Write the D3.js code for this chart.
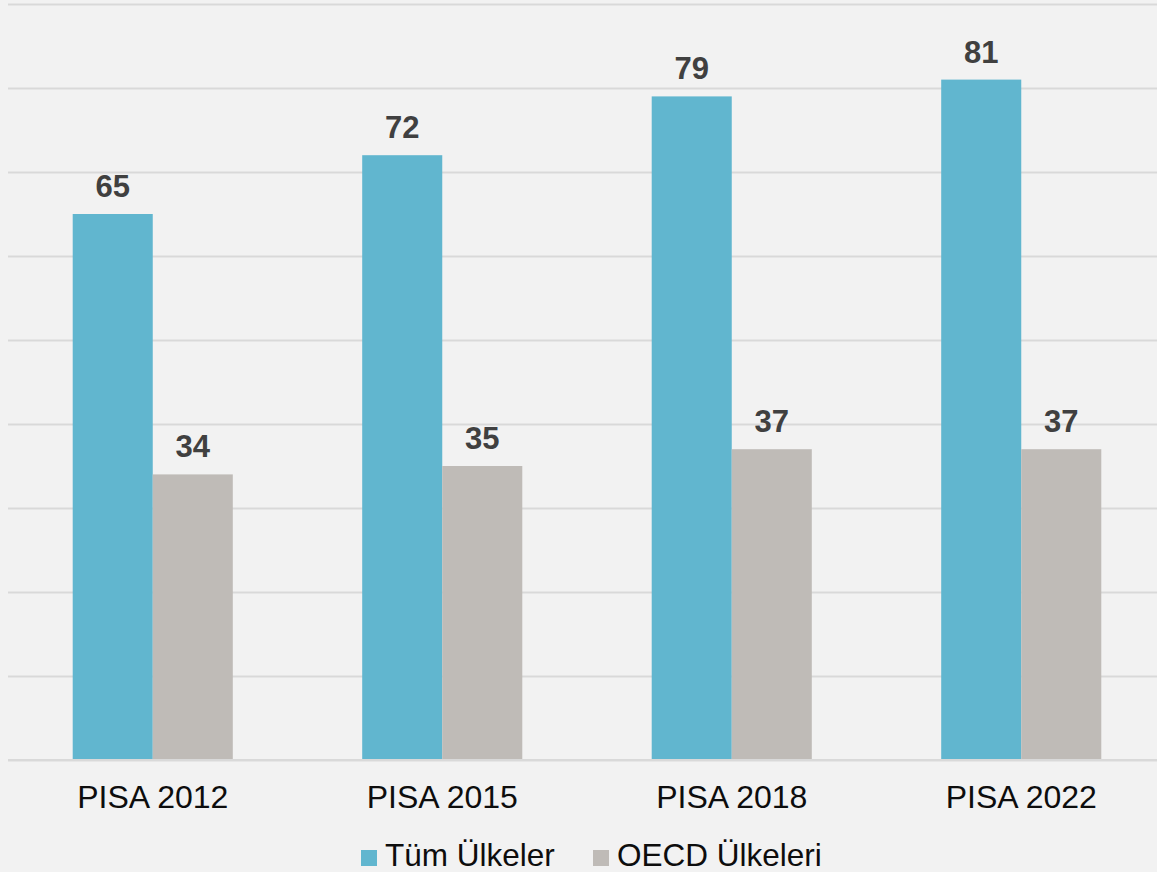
<!DOCTYPE html>
<html>
<head>
<meta charset="utf-8">
<script src="https://cdn.jsdelivr.net/npm/d3@7"></script>
<style>
  html, body { margin: 0; padding: 0; background: #f2f2f2; }
  svg { display: block; font-family: "Liberation Sans", Arial, sans-serif; }
</style>
</head>
<body>
<div id="grafico"></div>
<script>
// datos
const categorias = ["PISA 2012", "PISA 2015", "PISA 2018", "PISA 2022"];
const series = ["Tüm Ülkeler", "OECD Ülkeleri"];
const tumUlkeler = [65, 72, 79, 81];
const oecdUlkeler = [34, 35, 37, 37];
const colores = ["#61b6cf", "#bfbbb7"];
const yTicks = [0, 10, 20, 30, 40, 50, 60, 70, 80, 90];

const width = 1157;
const height = 872;
const marginLeft = 8;
const marginRight = -9;   // el area del grafico sigue un poco fuera de la imagen
const marginTop = 4;
const marginBottom = 112;

const valores = [tumUlkeler, oecdUlkeler];

const svg = d3.select("#grafico")
  .append("svg")
  .attr("width", width)
  .attr("height", height);

svg.append("rect")
  .attr("width", width)
  .attr("height", height)
  .attr("fill", "#f2f2f2");

// escalas
const xScale = d3.scaleBand()
  .domain(categorias)
  .range([marginLeft, width - marginRight])
  .paddingInner(0.447)
  .paddingOuter(0.2235);

const xSub = d3.scaleBand()
  .domain(series)
  .range([0, xScale.bandwidth()]);

const yScale = d3.scaleLinear()
  .domain([0, 90])
  .range([height - marginBottom, marginTop]);

// lineas de cuadricula
const yAxis = d3.axisLeft(yScale)
  .tickValues(yTicks)
  .tickSize(-(width - marginLeft))
  .tickFormat("");

svg.append("g")
  .attr("transform", `translate(${marginLeft},0)`)
  .call(yAxis)
  .call(g => g.select(".domain").remove())
  .call(g => g.selectAll(".tick line")
    .attr("stroke", "#d9d9d9")
    .attr("stroke-width", 2));

// barras
const grupos = svg.selectAll("g.grupo")
  .data(categorias)
  .enter()
  .append("g")
  .attr("class", "grupo")
  .attr("transform", d => `translate(${xScale(d)},0)`);

series.forEach((s, j) => {
  grupos.append("rect")
    .attr("x", xSub(s))
    .attr("y", (d, i) => yScale(valores[j][i]))
    .attr("width", xSub.bandwidth())
    .attr("height", (d, i) => yScale(0) - yScale(valores[j][i]))
    .attr("fill", colores[j]);

  grupos.append("text")
    .attr("x", xSub(s) + xSub.bandwidth() / 2)
    .attr("y", (d, i) => yScale(valores[j][i]) - 17)
    .attr("text-anchor", "middle")
    .attr("font-size", 31)
    .attr("font-weight", "bold")
    .attr("fill", "#404040")
    .text((d, i) => valores[j][i]);
});

// linea base
svg.append("line")
  .attr("x1", marginLeft)
  .attr("x2", width)
  .attr("y1", yScale(0))
  .attr("y2", yScale(0))
  .attr("stroke", "#d9d9d9")
  .attr("stroke-width", 2);

// eje x (solo etiquetas)
const xAxis = d3.axisBottom(xScale).tickSize(0).tickPadding(25);

svg.append("g")
  .attr("transform", `translate(0,${yScale(0)})`)
  .call(xAxis)
  .call(g => g.select(".domain").remove())
  .call(g => g.selectAll("text")
    .attr("font-size", 32)
    .attr("font-family", "Liberation Sans, Arial, sans-serif")
    .attr("fill", "#0d0d0d"));

// leyenda
const leyenda = svg.append("g");
const posLeyenda = [361, 593];
series.forEach((s, j) => {
  leyenda.append("rect")
    .attr("x", posLeyenda[j])
    .attr("y", 850)
    .attr("width", 16)
    .attr("height", 16)
    .attr("fill", colores[j]);
  leyenda.append("text")
    .attr("x", posLeyenda[j] + 24)
    .attr("y", 866)
    .attr("font-size", 31.5)
    .attr("fill", "#0d0d0d")
    .text(s);
});
</script>
</body>
</html>
